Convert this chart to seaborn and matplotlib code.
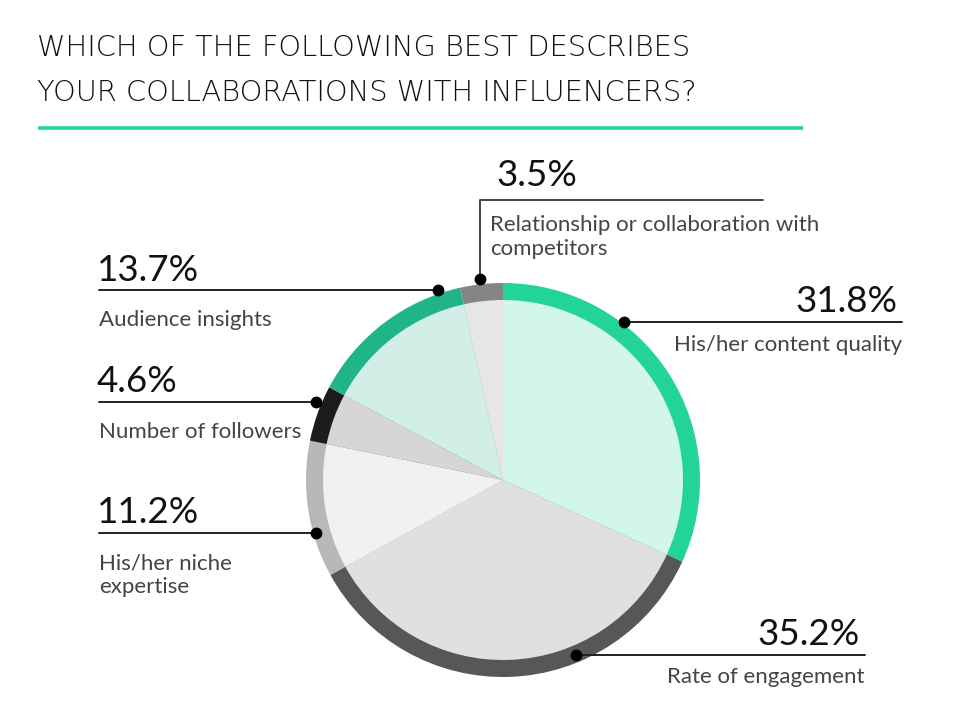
import matplotlib
matplotlib.use("Agg")
import matplotlib.pyplot as plt
import seaborn as sns

# Data
labels = ["His/her content quality", "Rate of engagement", "His/her niche\nexpertise",
          "Number of followers", "Audience insights", "Relationship or collaboration with\ncompetitors"]
shares = [31.8, 35.2, 11.2, 4.6, 13.7, 3.5]
ring_colors = ["#22d49a", "#585757", "#b8b8b8", "#1c1c1c", "#1fb588", "#858585"]
fill_colors = ["#d2f7ea", "#e0e0e0", "#f1f1f1", "#d6d6d6", "#d1efe6", "#e6e6e6"]
title = "WHICH OF THE FOLLOWING BEST DESCRIBES\nYOUR COLLABORATIONS WITH INFLUENCERS?"

sns.set_theme(style="white")
plt.rcParams["font.family"] = ["Lato", "DejaVu Sans"]

W, H = 954, 706
fig = plt.figure(figsize=(W / 100, H / 100), dpi=100)
ax = fig.add_axes([0, 0, 1, 1])


def Y(p):
    # pixel row (from top) -> data y
    return H - p


cx, cy, R, ring = 503, 480, 197, 17

# outer ring and inner fill
ax.pie(shares, colors=ring_colors, startangle=90, counterclock=False,
       radius=R, center=(cx, Y(cy)), frame=True,
       wedgeprops=dict(linewidth=0))
ax.pie(shares, colors=fill_colors, startangle=90, counterclock=False,
       radius=R - ring, center=(cx, Y(cy)), frame=True,
       wedgeprops=dict(linewidth=0))
ax.set_xlim(0, W)
ax.set_ylim(0, H)
ax.set_aspect("equal")
ax.axis("off")

# title and rule
for k, t in enumerate(title.split("\n")):
    ax.text(37, Y(56 + 45 * k), t, fontsize=20.8, family=["DejaVu Sans"],
            fontweight="light", color="#111111", va="baseline", ha="left")
ax.plot([38, 803], [Y(128), Y(128)], color="#22d49a", lw=2.6, solid_capstyle="butt")

pct_kw = dict(fontsize=26.5, color="#111111", va="baseline")
lab_kw = dict(fontsize=16, color="#444444", va="baseline")
line_kw = dict(color="#222222", lw=1.4)
dot_kw = dict(marker="o", ms=7.5, color="#000000", zorder=5)

# right side labels: (dot x, line y, line end x, pct baseline, label baseline)
right = {0: (624, 322, 902, 312, 351), 1: (576, 655, 865, 645, 683)}
for i, (dx, ly, ex, pb, lb) in right.items():
    ax.plot([dx, ex], [Y(ly), Y(ly)], **line_kw)
    ax.plot(dx, Y(ly), **dot_kw)
    ax.text(ex - 5, Y(pb), f"{shares[i]}%", ha="right", **pct_kw)
    ax.text(ex, Y(lb), labels[i], ha="right", **lab_kw)

# left side labels
left = {4: (438, 290, 281, 326), 3: (316, 402, 392, 438), 2: (316, 533, 523, 569)}
for i, (dx, ly, pb, lb) in left.items():
    ax.plot([99, dx], [Y(ly), Y(ly)], **line_kw)
    ax.plot(dx, Y(ly), **dot_kw)
    ax.text(97, Y(pb), f"{shares[i]}%", ha="left", **pct_kw)
    for k, t in enumerate(labels[i].split("\n")):
        ax.text(99, Y(lb + 24 * k), t, ha="left", **lab_kw)

# top label with elbow leader
ax.plot([480, 480, 763], [Y(279), Y(200), Y(200)], color="#444444", lw=1.4)
ax.plot(480, Y(279), **dot_kw)
ax.text(496, Y(186), f"{shares[5]}%", ha="left", **pct_kw)
for k, t in enumerate(labels[5].split("\n")):
    ax.text(490, Y(231 + 24 * k), t, ha="left", **lab_kw)

fig.savefig("out.png", dpi=100, facecolor="white")
